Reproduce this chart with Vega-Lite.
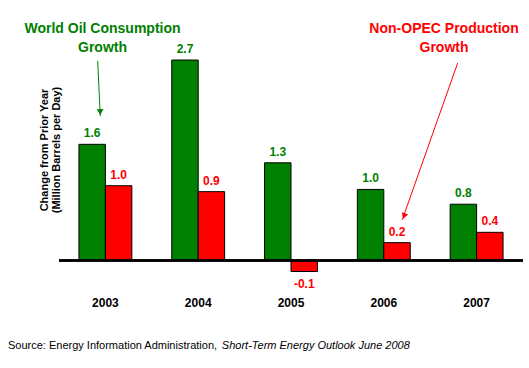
{
  "$schema": "https://vega.github.io/schema/vega-lite/v6.json",
  "autosize": {"type": "none"},
  "padding": {"left": 59, "top": 9, "right": 6, "bottom": 78},
  "width": 464,
  "height": 281,
  "background": "white",
  "config": {"view": {"stroke": null}, "font": "Liberation Sans"},
  "datasets": {
    "bars": [
      {"year": "2003", "series": "World Oil Consumption Growth", "value": 1.57, "label": "1.6"},
      {"year": "2003", "series": "Non-OPEC Production Growth", "value": 1.01, "label": "1.0"},
      {"year": "2004", "series": "World Oil Consumption Growth", "value": 2.71, "label": "2.7"},
      {"year": "2004", "series": "Non-OPEC Production Growth", "value": 0.93, "label": "0.9"},
      {"year": "2005", "series": "World Oil Consumption Growth", "value": 1.32, "label": "1.3"},
      {"year": "2005", "series": "Non-OPEC Production Growth", "value": -0.15, "label": "-0.1"},
      {"year": "2006", "series": "World Oil Consumption Growth", "value": 0.96, "label": "1.0"},
      {"year": "2006", "series": "Non-OPEC Production Growth", "value": 0.24, "label": "0.2"},
      {"year": "2007", "series": "World Oil Consumption Growth", "value": 0.76, "label": "0.8"},
      {"year": "2007", "series": "Non-OPEC Production Growth", "value": 0.38, "label": "0.4"}
    ],
    "notes": [
      {"series": "World Oil Consumption Growth", "text": "World Oil Consumption", "x": 0.469, "y": 3.129},
      {"series": "World Oil Consumption Growth", "text": "Growth", "x": 0.469, "y": 2.872},
      {"series": "Non-OPEC Production Growth", "text": "Non-OPEC Production", "x": 4.149, "y": 3.129},
      {"series": "Non-OPEC Production Growth", "text": "Growth", "x": 4.149, "y": 2.872}
    ],
    "arrows": [
      {"series": "World Oil Consumption Growth", "x": 0.417, "y": 2.70, "x2": 0.445, "y2": 1.95, "hx": 0.444, "hy": 2.007},
      {"series": "Non-OPEC Production Growth", "x": 4.296, "y": 2.669, "x2": 3.699, "y2": 0.55, "hx": 3.718, "hy": 0.600}
    ],
    "source": [
      {"text": "Source: Energy Information Administration,", "style": "normal", "x": -0.55, "y": -1.157},
      {"text": "Short-Term Energy Outlook June 2008", "style": "italic", "x": 1.755, "y": -1.157}
    ]
  },
  "resolve": {"scale": {"x": "independent"}, "axis": {"x": "independent"}},
  "layer": [
    {
      "data": {"name": "bars"},
      "encoding": {
        "x": {
          "field": "year", "type": "nominal",
          "scale": {"paddingInner": 0.43, "paddingOuter": 0.215},
          "axis": {"title": null, "domain": false, "ticks": false, "labelAngle": 0, "labelFontSize": 12, "labelFontWeight": "bold", "labelColor": "black", "labelPadding": 7}
        },
        "xOffset": {"field": "series", "type": "nominal", "sort": ["World Oil Consumption Growth", "Non-OPEC Production Growth"], "scale": {"paddingInner": 0, "paddingOuter": 0}},
        "y": {
          "field": "value", "type": "quantitative",
          "scale": {"domain": [-0.4, 3.4], "nice": false, "zero": false},
          "axis": {"title": ["Change from Prior Year", "(Million Barrels per Day)"], "titleFontSize": 11, "titleFontWeight": "bold", "titleColor": "black", "titleLineHeight": 12, "labels": false, "ticks": false, "domain": false, "grid": false, "titlePadding": -2}
        },
        "color": {
          "field": "series", "type": "nominal",
          "scale": {"domain": ["World Oil Consumption Growth", "Non-OPEC Production Growth"], "range": ["#008000", "#ff0000"]},
          "legend": null
        }
      },
      "layer": [
        {"mark": {"type": "bar", "stroke": "black", "strokeWidth": 1}},
        {
          "transform": [{"filter": "datum.value >= 0"}],
          "mark": {"type": "text", "fontSize": 12, "fontWeight": "bold", "baseline": "middle", "dy": -11},
          "encoding": {"text": {"field": "label"}}
        },
        {
          "transform": [{"filter": "datum.value < 0"}],
          "mark": {"type": "text", "fontSize": 12, "fontWeight": "bold", "baseline": "middle", "dy": 12},
          "encoding": {"text": {"field": "label"}}
        },
        {
          "mark": {"type": "rule", "color": "black", "strokeWidth": 1.5},
          "encoding": {"y": {"datum": 0}, "x": null, "xOffset": null, "color": null}
        }
      ]
    },
    {
      "data": {"name": "notes"},
      "mark": {"type": "text", "fontSize": 14, "fontWeight": "bold", "baseline": "middle", "align": "center"},
      "encoding": {
        "x": {"field": "x", "type": "quantitative", "scale": {"domain": [0, 5], "nice": false}, "axis": null},
        "y": {"field": "y", "type": "quantitative"},
        "text": {"field": "text"},
        "color": {"field": "series", "type": "nominal", "legend": null}
      }
    },
    {
      "data": {"name": "arrows"},
      "mark": {"type": "rule", "strokeWidth": 1},
      "encoding": {
        "x": {"field": "x", "type": "quantitative", "scale": {"domain": [0, 5], "nice": false}, "axis": null},
        "y": {"field": "y", "type": "quantitative"},
        "x2": {"field": "x2"},
        "y2": {"field": "y2"},
        "color": {"field": "series", "type": "nominal", "legend": null}
      }
    },
    {
      "data": {"name": "arrows"},
      "transform": [{"filter": "datum.series == 'World Oil Consumption Growth'"}],
      "mark": {"type": "point", "shape": "triangle-down", "filled": true, "opacity": 1, "size": 45, "angle": -2},
      "encoding": {
        "x": {"field": "hx", "type": "quantitative", "scale": {"domain": [0, 5], "nice": false}, "axis": null},
        "y": {"field": "hy", "type": "quantitative"},
        "color": {"field": "series", "type": "nominal", "legend": null}
      }
    },
    {
      "data": {"name": "arrows"},
      "transform": [{"filter": "datum.series == 'Non-OPEC Production Growth'"}],
      "mark": {"type": "point", "shape": "triangle-down", "filled": true, "opacity": 1, "size": 45, "angle": 19},
      "encoding": {
        "x": {"field": "hx", "type": "quantitative", "scale": {"domain": [0, 5], "nice": false}, "axis": null},
        "y": {"field": "hy", "type": "quantitative"},
        "color": {"field": "series", "type": "nominal", "legend": null}
      }
    },
    {
      "data": {"name": "source"},
      "transform": [{"filter": "datum.style == 'normal'"}],
      "mark": {"type": "text", "fontSize": 11, "baseline": "middle", "align": "left", "color": "black"},
      "encoding": {
        "x": {"field": "x", "type": "quantitative", "scale": {"domain": [0, 5], "nice": false}, "axis": null},
        "y": {"field": "y", "type": "quantitative"},
        "text": {"field": "text"}
      }
    },
    {
      "data": {"name": "source"},
      "transform": [{"filter": "datum.style == 'italic'"}],
      "mark": {"type": "text", "fontSize": 11, "fontStyle": "italic", "baseline": "middle", "align": "left", "color": "black"},
      "encoding": {
        "x": {"field": "x", "type": "quantitative", "scale": {"domain": [0, 5], "nice": false}, "axis": null},
        "y": {"field": "y", "type": "quantitative"},
        "text": {"field": "text"}
      }
    }
  ]
}
